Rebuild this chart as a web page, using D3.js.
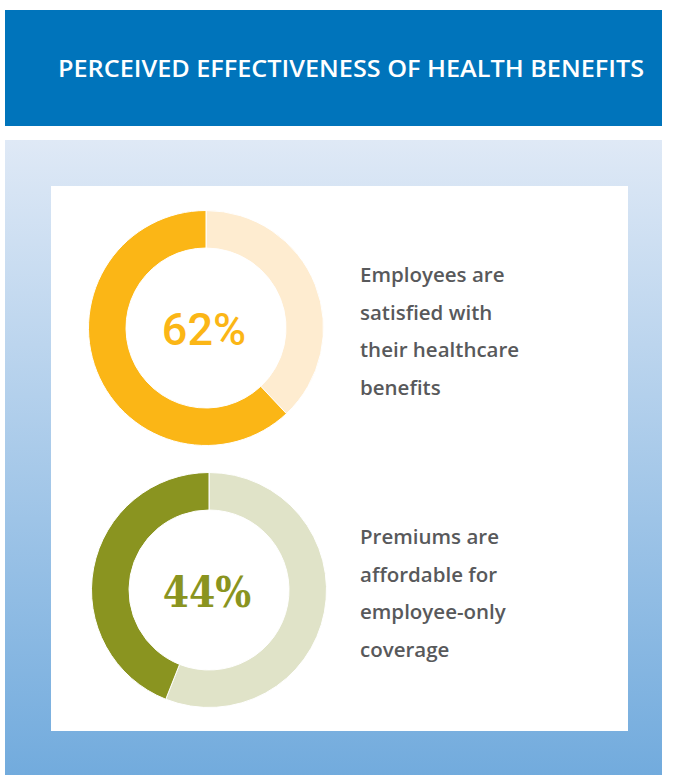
<!DOCTYPE html>
<html>
<head>
<meta charset="utf-8">
<script src="https://cdn.jsdelivr.net/npm/d3@7"></script>
<style>
  body { margin: 0; background: #fff; }
  svg { display: block; }
</style>
</head>
<body>
<div id="chart"></div>
<script>
// values
const title = "PERCEIVED EFFECTIVENESS OF HEALTH BENEFITS";
const percents = [62, 44];
const percentLabels = ["62%", "44%"];
const captions = [
    ["Employees are", "satisfied with", "their healthcare", "benefits"],
    ["Premiums are", "affordable for", "employee-only", "coverage"]
];
const darkColors = ["#fbb616", "#8a9420"];
const lightColors = ["#feecd0", "#e0e3c8"];
const labelFonts = ["Roboto, 'Liberation Sans', sans-serif", "'DejaVu Serif', serif"];

let width = 676, height = 775;

let svg = d3.select("#chart").append("svg")
    .attr("width", width)
    .attr("height", height);

// header band
svg.append("rect")
    .attr("x", 5).attr("y", 10)
    .attr("width", 657).attr("height", 116)
    .attr("fill", "#0074bb");

svg.append("text")
    .attr("x", 351).attr("y", 77)
    .attr("text-anchor", "middle")
    .attr("fill", "#fff")
    .attr("font-family", "'Open Sans', sans-serif")
    .attr("font-size", 24)
    .attr("font-weight", 600)
    .attr("textLength", 586)
    .attr("lengthAdjust", "spacingAndGlyphs")
    .text(title);

// gradient panel
let grad = svg.append("defs").append("linearGradient")
    .attr("id", "bg").attr("x1", 0).attr("y1", 0).attr("x2", 0).attr("y2", 1);
grad.append("stop").attr("offset", "0%").attr("stop-color", "#dfe9f6");
grad.append("stop").attr("offset", "100%").attr("stop-color", "#72abdd");

svg.append("rect")
    .attr("x", 5).attr("y", 140)
    .attr("width", 657).attr("height", 635)
    .attr("fill", "url(#bg)");

svg.append("rect")
    .attr("x", 51).attr("y", 186)
    .attr("width", 577).attr("height", 545)
    .attr("fill", "#fff");

// donuts
let pie = d3.pie().sort(null).value(d => d);
let arc = d3.arc().innerRadius(80).outerRadius(117.5);

let centers = [{x: 206, y: 328}, {x: 209, y: 590}];

percents.forEach((p, i) => {
    let g = svg.append("g")
        .attr("transform", "translate(" + centers[i].x + "," + centers[i].y + ")");

    g.selectAll("path")
        .data(pie([100 - p, p]))
        .enter()
        .append("path")
        .attr("d", arc)
        .attr("fill", (d, j) => j === 0 ? lightColors[i] : darkColors[i])
        .attr("stroke", "#fff")
        .attr("stroke-width", 1);

    g.append("text")
        .attr("x", -2).attr("y", 17)
        .attr("text-anchor", "middle")
        .attr("fill", darkColors[i])
        .attr("font-family", labelFonts[i])
        .attr("font-size", i === 0 ? 45 : 42)
        .attr("font-weight", i === 0 ? 500 : 700)
        .attr("font-stretch", i === 0 ? "normal" : "condensed")
        .text(percentLabels[i]);

    let cap = svg.append("text")
        .attr("x", 360)
        .attr("y", centers[i].y - 46)
        .attr("fill", "#58595b")
        .attr("font-family", "'Open Sans', sans-serif")
        .attr("font-size", 20.5)
        .attr("font-weight", 600);

    cap.selectAll("tspan")
        .data(captions[i])
        .enter()
        .append("tspan")
        .attr("x", 360)
        .attr("dy", (d, j) => j === 0 ? 0 : 37.5)
        .text(d => d);
});
</script>
</body>
</html>
